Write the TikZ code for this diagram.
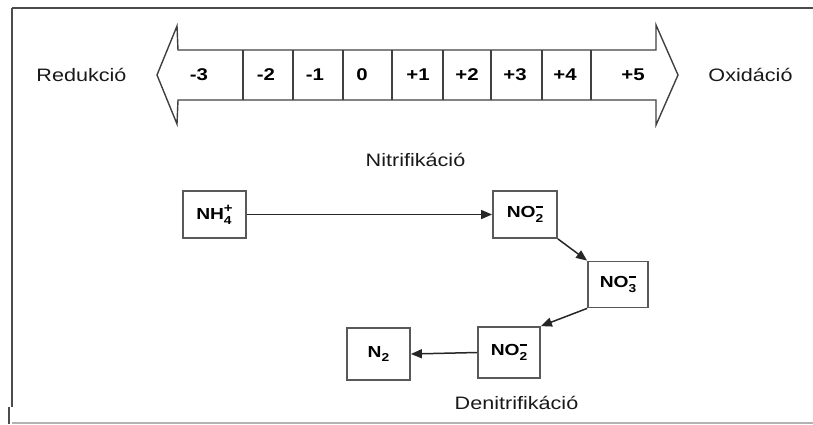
\documentclass[tikz,border=0pt]{standalone}
\usepackage{fontspec}
\setmainfont{Liberation Sans}
\usetikzlibrary{arrows.meta}
% all lettering is set a little wide
\newcommand{\widetext}[1]{\scalebox{1.2}[1]{#1}}
% ion formula with stacked subscript and charge
\newcommand{\chemion}[3]{#1\rlap{\raisebox{-0.55ex}{\fontsize{11.5}{12}\selectfont #2}}%
  \raisebox{0.9ex}{\fontsize{12.5}{13}\selectfont #3}}
\newcommand{\minuscharge}{\rule[0.3ex]{0.5em}{0.16em}}

\begin{document}
\begin{tikzpicture}[x=1pt,y=-1pt,
  frameline/.style={draw=black!70, line width=2.4pt},
  scaleline/.style={draw=black!75, line width=1.4pt, line join=miter},
  species/.style={draw=black!65, line width=1.8pt, inner sep=0pt,
    font=\fontsize{16}{19}\selectfont\bfseries},
  ox/.style={font=\fontsize{17}{20}\selectfont\bfseries, inner sep=0pt},
  caption/.style={font=\fontsize{18}{21}\selectfont, inner sep=0pt, text=black!90},
  flow/.style={draw=black!85, line width=1.5pt, -{Triangle[length=11pt,width=9pt]}}
]
\useasboundingbox (0,0) rectangle (813,424);

% frame
\draw[frameline] (12,8) -- (813,8);
\draw[frameline] (12,8) -- (12,407);
\draw[frameline] (9,407) -- (9,424);
\draw[draw=black!30, line width=1.5pt] (12,423) -- (813,423);

% oxidation-state scale as a double arrow
\draw[scaleline] (157,75) -- (177,26) -- (178,50) -- (656,50) -- (656,25)
  -- (678,75) -- (656,125) -- (656,100) -- (178,100) -- (177,124) -- cycle;
\foreach \x in {243,293,343,392,443,491,542,591}
  \draw[scaleline] (\x,50) -- (\x,100);
\foreach \x/\t [count=\i] in {199/-3,266/-2,315/-1,362/0,418/+1,467/+2,515/+3,565/+4,633/+5}
  \node[ox] (lvl\i) at (\x,75) {\widetext{\t}};

\node[caption] (red) at (81.5,75) {\widetext{Redukció}};
\node[caption] (oxi) at (750.5,75) {\widetext{Oxidáció}};

% nitrogen species
\node[species, minimum width=63pt, minimum height=47pt] (nh4) at (214.5,214.5) {\widetext{\chemion{NH}{4}{+}}};
\node[species, minimum width=64pt, minimum height=47pt] (no2a) at (525,214.5) {\widetext{\chemion{NO}{2}{\minuscharge}}};
\node[species, minimum width=60pt, minimum height=46pt] (no3) at (618,284.5) {\widetext{\chemion{NO}{3}{\minuscharge}}};
\node[species, minimum width=62pt, minimum height=51pt] (no2b) at (509,352.5) {\widetext{\chemion{NO}{2}{\minuscharge}}};
\node[species, minimum width=63pt, minimum height=52pt] (n2) at (378.5,354) {\widetext{N\raisebox{-0.55ex}{\fontsize{11.5}{12}\selectfont 2}}};

% process labels
\node[caption] (nitri) at (415.5,160) {\widetext{Nitrifikáció}};
\node[caption] (denitri) at (516.5,403) {\widetext{Denitrifikáció}};

% reaction paths
\draw[flow] (nh4.east) -- (no2a.west);
\draw[flow] (no2a.south east) -- (no3.north west);
\draw[flow] (no3.south west) -- (no2b.north east);
\draw[flow] (no2b.west) -- (n2.east);
\end{tikzpicture}
\end{document}
